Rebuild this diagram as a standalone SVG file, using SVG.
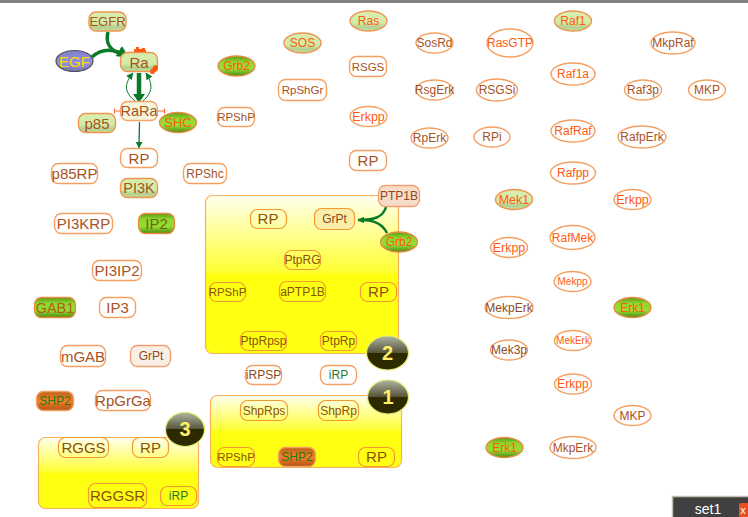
<svg xmlns="http://www.w3.org/2000/svg" width="748" height="517" viewBox="0 0 748 517">
<style>
text{font-family:"Liberation Sans",Arial,sans-serif;text-anchor:middle;dominant-baseline:central;fill:#a8521f}
.n{fill:#fff;stroke:#f5a062;stroke-width:1.400}
.lg{fill:url(#lg);stroke:#f09550;stroke-width:1.400}
.dg{fill:url(#dg);stroke:#e88a40;stroke-width:1.300}
.og{fill:url(#og);stroke:#f0a060;stroke-width:1.300}
.pale{fill:#f9efe6;stroke:#f0a070;stroke-width:1.400}
.y{fill:none;stroke:#f59a30;stroke-width:1.200}
.grp{fill:url(#yl);stroke:#f8b060;stroke-width:1.200}
.o{fill:#ff5a10}
.b{fill:#8c4a22}
.yt{fill:#8a5208}
.gt{fill:#1f7a3a}
.ln{fill:none;stroke:#0a7a28}
.bd{fill:url(#bd);stroke:#e4ee70;stroke-width:1.200}
.bt{fill:#ffee66;font-weight:bold;font-size:20px}
.inh{fill:none;stroke:#ff6a30;stroke-width:1.200}
</style>
<defs>
<linearGradient id="lg" x1="0" y1="0" x2="0" y2="1"><stop offset="0" stop-color="#d8eeb0"/><stop offset=".6" stop-color="#d2eba6"/><stop offset=".8" stop-color="#b4d090"/><stop offset="1" stop-color="#c8dc9c"/></linearGradient>
<linearGradient id="dg" x1="0" y1="0" x2="0" y2="1"><stop offset="0" stop-color="#5c9a14"/><stop offset=".3" stop-color="#8ed830"/><stop offset=".65" stop-color="#96dc34"/><stop offset="1" stop-color="#4c8a12"/></linearGradient>
<linearGradient id="og" x1="0" y1="0" x2="0" y2="1"><stop offset="0" stop-color="#c06018"/><stop offset=".5" stop-color="#f58024"/><stop offset="1" stop-color="#b05414"/></linearGradient>
<linearGradient id="yl" x1="0" y1="0" x2="0" y2="1"><stop offset="0" stop-color="#fffff0"/><stop offset=".49" stop-color="#ffff30"/><stop offset=".5" stop-color="#ffff10"/><stop offset="1" stop-color="#ffff14"/></linearGradient>
<linearGradient id="bd" x1="0" y1="0" x2="0" y2="1"><stop offset="0" stop-color="#b0b4a0"/><stop offset=".49" stop-color="#55553a"/><stop offset=".5" stop-color="#2e2a00"/><stop offset="1" stop-color="#2e2a00"/></linearGradient>
<linearGradient id="egf" x1="0" y1="0" x2="0" y2="1"><stop offset="0" stop-color="#8080c8"/><stop offset=".6" stop-color="#9090e0"/><stop offset="1" stop-color="#7878a8"/></linearGradient>
<marker id="ah" markerWidth="7" markerHeight="7" refX="5.500" refY="3" orient="auto" markerUnits="userSpaceOnUse" viewBox="0 0 6 6"><path d="M0 0L6 3L0 6Z" fill="#0a7a28"/></marker>
<marker id="ahb" markerWidth="12" markerHeight="12" refX="5.500" refY="3" orient="auto" markerUnits="userSpaceOnUse" viewBox="0 0 6 6"><path d="M0 0L6 3L0 6Z" fill="#0a7a28"/></marker>
</defs>
<rect width="748" height="517" fill="#fff"/>
<rect width="748" height="3" fill="#808080"/>

<g id="group2"><rect class="grp" x="205.500" y="195.500" width="193" height="158" rx="7"/></g>
<g id="group1"><rect class="grp" x="210.500" y="395.500" width="191" height="72" rx="7"/></g>
<g id="group3"><rect class="grp" x="38.500" y="437.500" width="160" height="71" rx="7"/></g>

<g id="connectors">
<path class="ln" stroke-width="3.500" d="M108 32C105 44 110 51 124 55"/>
<path class="ln" stroke-width="3.500" d="M92 57C102 48 114 48 128 57" marker-end="url(#ahb)"/>
<path class="ln" stroke-width="4.500" d="M139 73V94"/>
<path d="M133 94H145L139 103Z" fill="#0a7a28"/>
<path class="ln" stroke-width="1" d="M135 101C124 92 124 84 133 73" marker-end="url(#ah)"/>
<path class="ln" stroke-width="1" d="M143 101C153 92 153 84 146 73" marker-end="url(#ah)"/>
<path class="ln" stroke-width="1.300" d="M139.500 122L139 148" marker-end="url(#ah)"/>
<path class="ln" stroke-width="2.500" d="M386 207C383 217 375 220 358 220" marker-end="url(#ah)"/>
<path class="ln" stroke-width="2.500" d="M387 233C383 225 375 220 362 220"/>
<path class="inh" d="M120 111H115M114.500 108.500V113.500M158 111H164M164.500 108.500V113.500"/>
</g>

<g id="EGFR"><rect class="lg" x="89" y="12" width="37" height="19" rx="7"/><text x="107.500" y="21.500" font-size="13">EGFR</text></g>
<g id="EGF"><ellipse cx="74.500" cy="61" rx="18.500" ry="10.500" fill="url(#egf)" stroke="#505060" stroke-width="1.200"/><text x="74.500" y="61" font-size="15" style="fill:#ffdd00">EGF</text></g>
<g id="Ra"><rect class="lg" x="120.500" y="52.500" width="37" height="19" rx="7"/><text x="139" y="62" font-size="15">Ra</text><path d="M134 52v-3h2v-2h3v2h3v-1h3v2h1v2Z" fill="#ff5a10"/><path d="M150 72l1-3 2-1 0-2 3-1 2 1 0 3-1 2-2 1-1 2-3 0Z" fill="#ff5a10"/></g>
<g id="RaRa"><rect x="120.500" y="101.500" width="37" height="19" rx="7" fill="#f5f5dc" stroke="#f4a468" stroke-width="1.300"/><text x="139" y="111" font-size="14.500">RaRa</text></g>
<g id="p85"><rect class="lg" x="78.500" y="113.500" width="37" height="19" rx="7"/><text x="97" y="123" font-size="15">p85</text></g>
<g id="SHC"><ellipse class="dg" cx="178" cy="122.500" rx="18.500" ry="10"/><text class="o" x="178" y="122.500" font-size="13">SHC</text></g>
<g id="RP1"><rect class="n" x="120.500" y="148.500" width="37" height="19" rx="7"/><text x="139" y="158" font-size="15">RP</text></g>
<g id="p85RP"><rect class="n" x="51.500" y="163.500" width="46" height="20" rx="7"/><text x="74.500" y="173.500" font-size="15">p85RP</text></g>
<g id="PI3K"><rect class="lg" x="120.500" y="178.500" width="37" height="19" rx="7"/><text x="139" y="188" font-size="14.500">PI3K</text></g>
<g id="RPShc"><rect class="n" x="183.500" y="163.500" width="43" height="20" rx="7"/><text x="205" y="173.500" font-size="12">RPShc</text></g>
<g id="PI3KRP"><rect class="n" x="54.500" y="213.500" width="58" height="20" rx="7"/><text x="83.500" y="223.500" font-size="15">PI3KRP</text></g>
<g id="IP2"><rect class="dg" x="138.500" y="213.500" width="36" height="20" rx="7"/><text x="156.500" y="223.500" font-size="15" style="fill:#6a6a08">IP2</text></g>
<g id="PI3IP2"><rect class="n" x="92.500" y="260.500" width="49" height="20" rx="7"/><text x="117" y="270.500" font-size="15">PI3IP2</text></g>
<g id="GAB1"><rect class="dg" x="34.500" y="297.500" width="41" height="20" rx="7"/><text x="55" y="307.500" font-size="14.500" style="fill:#b0600f">GAB1</text></g>
<g id="IP3"><rect class="n" x="99.500" y="297.500" width="36" height="20" rx="7"/><text x="117.500" y="307.500" font-size="15">IP3</text></g>
<g id="mGAB"><rect class="n" x="60.500" y="345.500" width="45" height="21" rx="7"/><text x="83" y="356" font-size="15">mGAB</text></g>
<g id="GrPt2"><rect class="pale" x="130.500" y="345.500" width="40" height="21" rx="7"/><text class="b" x="151" y="356" font-size="12">GrPt</text></g>
<g id="SHP2a"><rect class="og" x="36.500" y="391.500" width="37" height="19" rx="7"/><text x="55" y="401" font-size="12" style="fill:#1f7a20">SHP2</text></g>
<g id="RpGrGa"><rect class="n" x="95.500" y="390.500" width="55" height="20" rx="7"/><text x="123" y="400.500" font-size="15">RpGrGa</text></g>

<g id="RGGS"><rect class="y" x="58.500" y="437.500" width="50" height="20" rx="7"/><text class="yt" x="83.500" y="447.500" font-size="15">RGGS</text></g>
<g id="RP3"><rect class="y" x="132.500" y="437.500" width="36" height="20" rx="7"/><text class="yt" x="150.500" y="447.500" font-size="15">RP</text></g>
<g id="RGGSR"><rect class="y" x="88.500" y="483.500" width="58" height="24" rx="7"/><text class="yt" x="117.500" y="495.500" font-size="15">RGGSR</text></g>
<g id="iRP3"><rect class="y" x="160.500" y="486.500" width="36" height="19" rx="7"/><text class="gt" x="178.500" y="496" font-size="12">iRP</text></g>
<g id="badge3"><ellipse class="bd" cx="185" cy="429.500" rx="19.500" ry="17"/><text class="bt" x="185" y="429">3</text></g>

<g id="RP2"><rect class="y" x="250.500" y="209.500" width="36" height="19" rx="7"/><text class="yt" x="268" y="218.500" font-size="15">RP</text></g>
<g id="GrPt"><rect x="314.500" y="208.500" width="40" height="21" rx="7" fill="#fbeea8" stroke="#f59a30" stroke-width="1.200"/><text class="b" x="334.500" y="219" font-size="12">GrPt</text></g>
<g id="PTP1B"><rect x="378.500" y="185.500" width="41" height="21" rx="7" fill="#f8dcc8" stroke="#f0a070" stroke-width="1.300"/><text class="b" x="399" y="196" font-size="12">PTP1B</text></g>
<g id="Grb2b"><ellipse class="dg" cx="399" cy="242" rx="18.500" ry="10"/><text class="o" x="399" y="242" font-size="12">Grb2</text></g>
<g id="PtpRG"><rect class="y" x="284.500" y="250.500" width="36" height="19" rx="7"/><text class="yt" x="302.500" y="260" font-size="12">PtpRG</text></g>
<g id="RPShP2"><rect class="y" x="209.500" y="282.500" width="36" height="19" rx="7"/><text class="yt" x="227.500" y="292" font-size="11.500">RPShP</text></g>
<g id="aPTP1B"><rect class="y" x="279.500" y="281.500" width="46" height="20" rx="7"/><text class="yt" x="302.500" y="291.500" font-size="12">aPTP1B</text></g>
<g id="RP4"><rect class="y" x="360.500" y="282.500" width="36" height="19" rx="7"/><text class="yt" x="378.500" y="291.500" font-size="15">RP</text></g>
<g id="PtpRpsp"><rect class="y" x="240.500" y="331.500" width="46" height="19" rx="7"/><text class="yt" x="263.500" y="340.500" font-size="12">PtpRpsp</text></g>
<g id="PtpRp"><rect class="y" x="320.500" y="331.500" width="36" height="19" rx="7"/><text class="yt" x="338.500" y="340.500" font-size="12">PtpRp</text></g>
<g id="badge2"><ellipse class="bd" cx="387.500" cy="353" rx="21" ry="17"/><text class="bt" x="387.500" y="352.500">2</text></g>

<g id="iRPSP"><rect class="n" x="245.500" y="365.500" width="36" height="19" rx="7"/><text class="b" x="263.500" y="375" font-size="12">iRPSP</text></g>
<g id="iRP"><rect class="n" x="320.500" y="365.500" width="36" height="19" rx="7"/><text class="gt" x="338.500" y="375" font-size="12">iRP</text></g>
<g id="ShpRps"><rect class="y" x="240.500" y="400.500" width="47" height="20" rx="7"/><text class="yt" x="264" y="410.500" font-size="12">ShpRps</text></g>
<g id="ShpRp"><rect class="y" x="318.500" y="400.500" width="40" height="20" rx="7"/><text class="yt" x="338.500" y="410.500" font-size="12">ShpRp</text></g>
<g id="RPShP3"><rect class="y" x="217.500" y="447.500" width="37" height="19" rx="7"/><text class="yt" x="236" y="457" font-size="11.500">RPShP</text></g>
<g id="SHP2b"><rect class="og" x="278.500" y="447.500" width="37" height="19" rx="7"/><text x="297" y="457" font-size="12" style="fill:#1f7a20">SHP2</text></g>
<g id="RP5"><rect class="y" x="358.500" y="447.500" width="36" height="19" rx="7"/><text class="yt" x="376.500" y="456.500" font-size="15">RP</text></g>
<g id="badge1"><ellipse class="bd" cx="388" cy="397" rx="20.500" ry="17"/><text class="bt" x="388" y="397">1</text></g>

<g id="Ras"><ellipse class="lg" cx="368.500" cy="21" rx="18.500" ry="10"/><text class="o" x="368.500" y="21" font-size="12">Ras</text></g>
<g id="SOS"><ellipse class="lg" cx="302.500" cy="43" rx="18.500" ry="10"/><text class="o" x="302.500" y="43" font-size="12">SOS</text></g>
<g id="Grb2"><ellipse class="dg" cx="236.500" cy="66" rx="18.500" ry="10"/><text class="o" x="236.500" y="66" font-size="12">Grb2</text></g>
<g id="RSGS"><rect class="n" x="349.500" y="56.500" width="37" height="20" rx="7"/><text x="368" y="66.500" font-size="11.500">RSGS</text></g>
<g id="RpShGr"><rect class="n" x="278.500" y="79.500" width="48" height="21" rx="7"/><text x="302.500" y="90" font-size="11.500">RpShGr</text></g>
<g id="RPShP"><rect class="n" x="217.500" y="107.500" width="37" height="19" rx="7"/><text x="236" y="117" font-size="11.500">RPShP</text></g>
<g id="Erkpp1"><ellipse class="n" cx="368.500" cy="116.500" rx="18.500" ry="10"/><text class="o" x="368.500" y="116.500" font-size="12.500">Erkpp</text></g>
<g id="RP6"><rect class="n" x="349.500" y="150.500" width="37" height="20" rx="7"/><text x="368" y="160" font-size="15">RP</text></g>

<g id="SosRd"><ellipse class="n" cx="434.500" cy="43" rx="18.500" ry="10"/><text x="434.500" y="43" font-size="12">SosRd</text></g>
<g id="RasGTP"><ellipse class="n" cx="510" cy="43" rx="23" ry="14"/><text class="o" x="510" y="43" font-size="12">RasGTP</text></g>
<g id="Raf1"><ellipse class="lg" cx="573" cy="21" rx="18.500" ry="10"/><text class="o" x="573" y="21" font-size="12">Raf1</text></g>
<g id="MkpRaf"><ellipse class="n" cx="673" cy="43" rx="22" ry="11"/><text x="673" y="43" font-size="12">MkpRaf</text></g>
<g id="Raf1a"><ellipse class="n" cx="573" cy="74" rx="22" ry="11"/><text class="o" x="573" y="74" font-size="12">Raf1a</text></g>
<g id="Raf3p"><ellipse class="n" cx="643" cy="90" rx="18.500" ry="10"/><text x="643" y="90" font-size="12">Raf3p</text></g>
<g id="MKP1"><ellipse class="n" cx="707" cy="90" rx="18.500" ry="10"/><text x="707" y="90" font-size="12">MKP</text></g>
<g id="RsgErk"><ellipse class="n" cx="434.500" cy="90" rx="18.500" ry="10"/><text x="434.500" y="90" font-size="12">RsgErk</text></g>
<g id="RSGSi"><ellipse class="n" cx="497" cy="90" rx="20.500" ry="11"/><text x="497" y="90" font-size="12">RSGSi</text></g>
<g id="RpErk"><ellipse class="n" cx="429.500" cy="138" rx="18.500" ry="10"/><text x="429.500" y="138" font-size="12">RpErk</text></g>
<g id="RPi"><ellipse class="n" cx="492" cy="137" rx="18" ry="10"/><text x="492" y="137" font-size="12">RPi</text></g>
<g id="RafRaf"><ellipse class="n" cx="573" cy="131" rx="22" ry="11"/><text class="o" x="573" y="131" font-size="12">RafRaf</text></g>
<g id="RafpErk"><ellipse class="n" cx="642" cy="137" rx="24" ry="11"/><text x="642" y="137" font-size="12">RafpErk</text></g>
<g id="Rafpp"><ellipse class="n" cx="573" cy="173" rx="22.500" ry="11"/><text class="o" x="573" y="173" font-size="12">Rafpp</text></g>
<g id="Mek1"><ellipse class="lg" cx="514" cy="199.500" rx="18.500" ry="10"/><text class="o" x="514" y="199.500" font-size="12.500">Mek1</text></g>
<g id="Erkpp2"><ellipse class="n" cx="632.500" cy="199.500" rx="18.500" ry="10"/><text class="o" x="632.500" y="199.500" font-size="12.500">Erkpp</text></g>
<g id="Erkpp3"><ellipse class="n" cx="509" cy="247.500" rx="18.500" ry="10"/><text class="o" x="509" y="247.500" font-size="12.500">Erkpp</text></g>
<g id="RafMek"><ellipse class="n" cx="572.500" cy="237.500" rx="22.500" ry="12"/><text class="o" x="572.500" y="237.500" font-size="12">RafMek</text></g>
<g id="Mekpp"><ellipse class="n" cx="572.500" cy="281.500" rx="18.500" ry="10"/><text class="o" x="572.500" y="281.500" font-size="10">Mekpp</text></g>
<g id="MekpErk"><ellipse class="n" cx="509" cy="307.500" rx="24" ry="11"/><text class="b" x="509" y="307.500" font-size="12">MekpErk</text></g>
<g id="Erk1"><ellipse class="dg" cx="632.500" cy="307.500" rx="18.500" ry="10"/><text class="o" x="632.500" y="307.500" font-size="12">Erk1</text></g>
<g id="Mek3p"><ellipse class="n" cx="509" cy="350" rx="18.500" ry="10"/><text class="b" x="509" y="350" font-size="12">Mek3p</text></g>
<g id="MekErk"><ellipse class="n" cx="573" cy="340.500" rx="18.500" ry="10"/><text class="o" x="573" y="340.500" font-size="10">MekErk</text></g>
<g id="Erkpp4"><ellipse class="n" cx="573" cy="384" rx="18.500" ry="10"/><text class="o" x="573" y="384" font-size="12">Erkpp</text></g>
<g id="MKP2"><ellipse class="n" cx="632.500" cy="415.500" rx="18.500" ry="10"/><text x="632.500" y="415.500" font-size="12">MKP</text></g>
<g id="Erk1b"><ellipse class="dg" cx="504.500" cy="447.500" rx="18.500" ry="10"/><text class="o" x="504.500" y="447.500" font-size="12">Erk1</text></g>
<g id="MkpErk"><ellipse class="n" cx="573" cy="447.500" rx="23" ry="11"/><text x="573" y="447.500" font-size="12">MkpErk</text></g>

<g id="set1"><rect x="672.500" y="496.500" width="80" height="25" fill="#404040" stroke="#c0c0b0" stroke-width="1.500"/><text x="708" y="508.500" font-size="14" style="fill:#fff">set1</text><rect x="739" y="503" width="14" height="16" rx="2" fill="#e85020"/><text x="743" y="510" font-size="11" style="fill:#fff">x</text></g>
</svg>
